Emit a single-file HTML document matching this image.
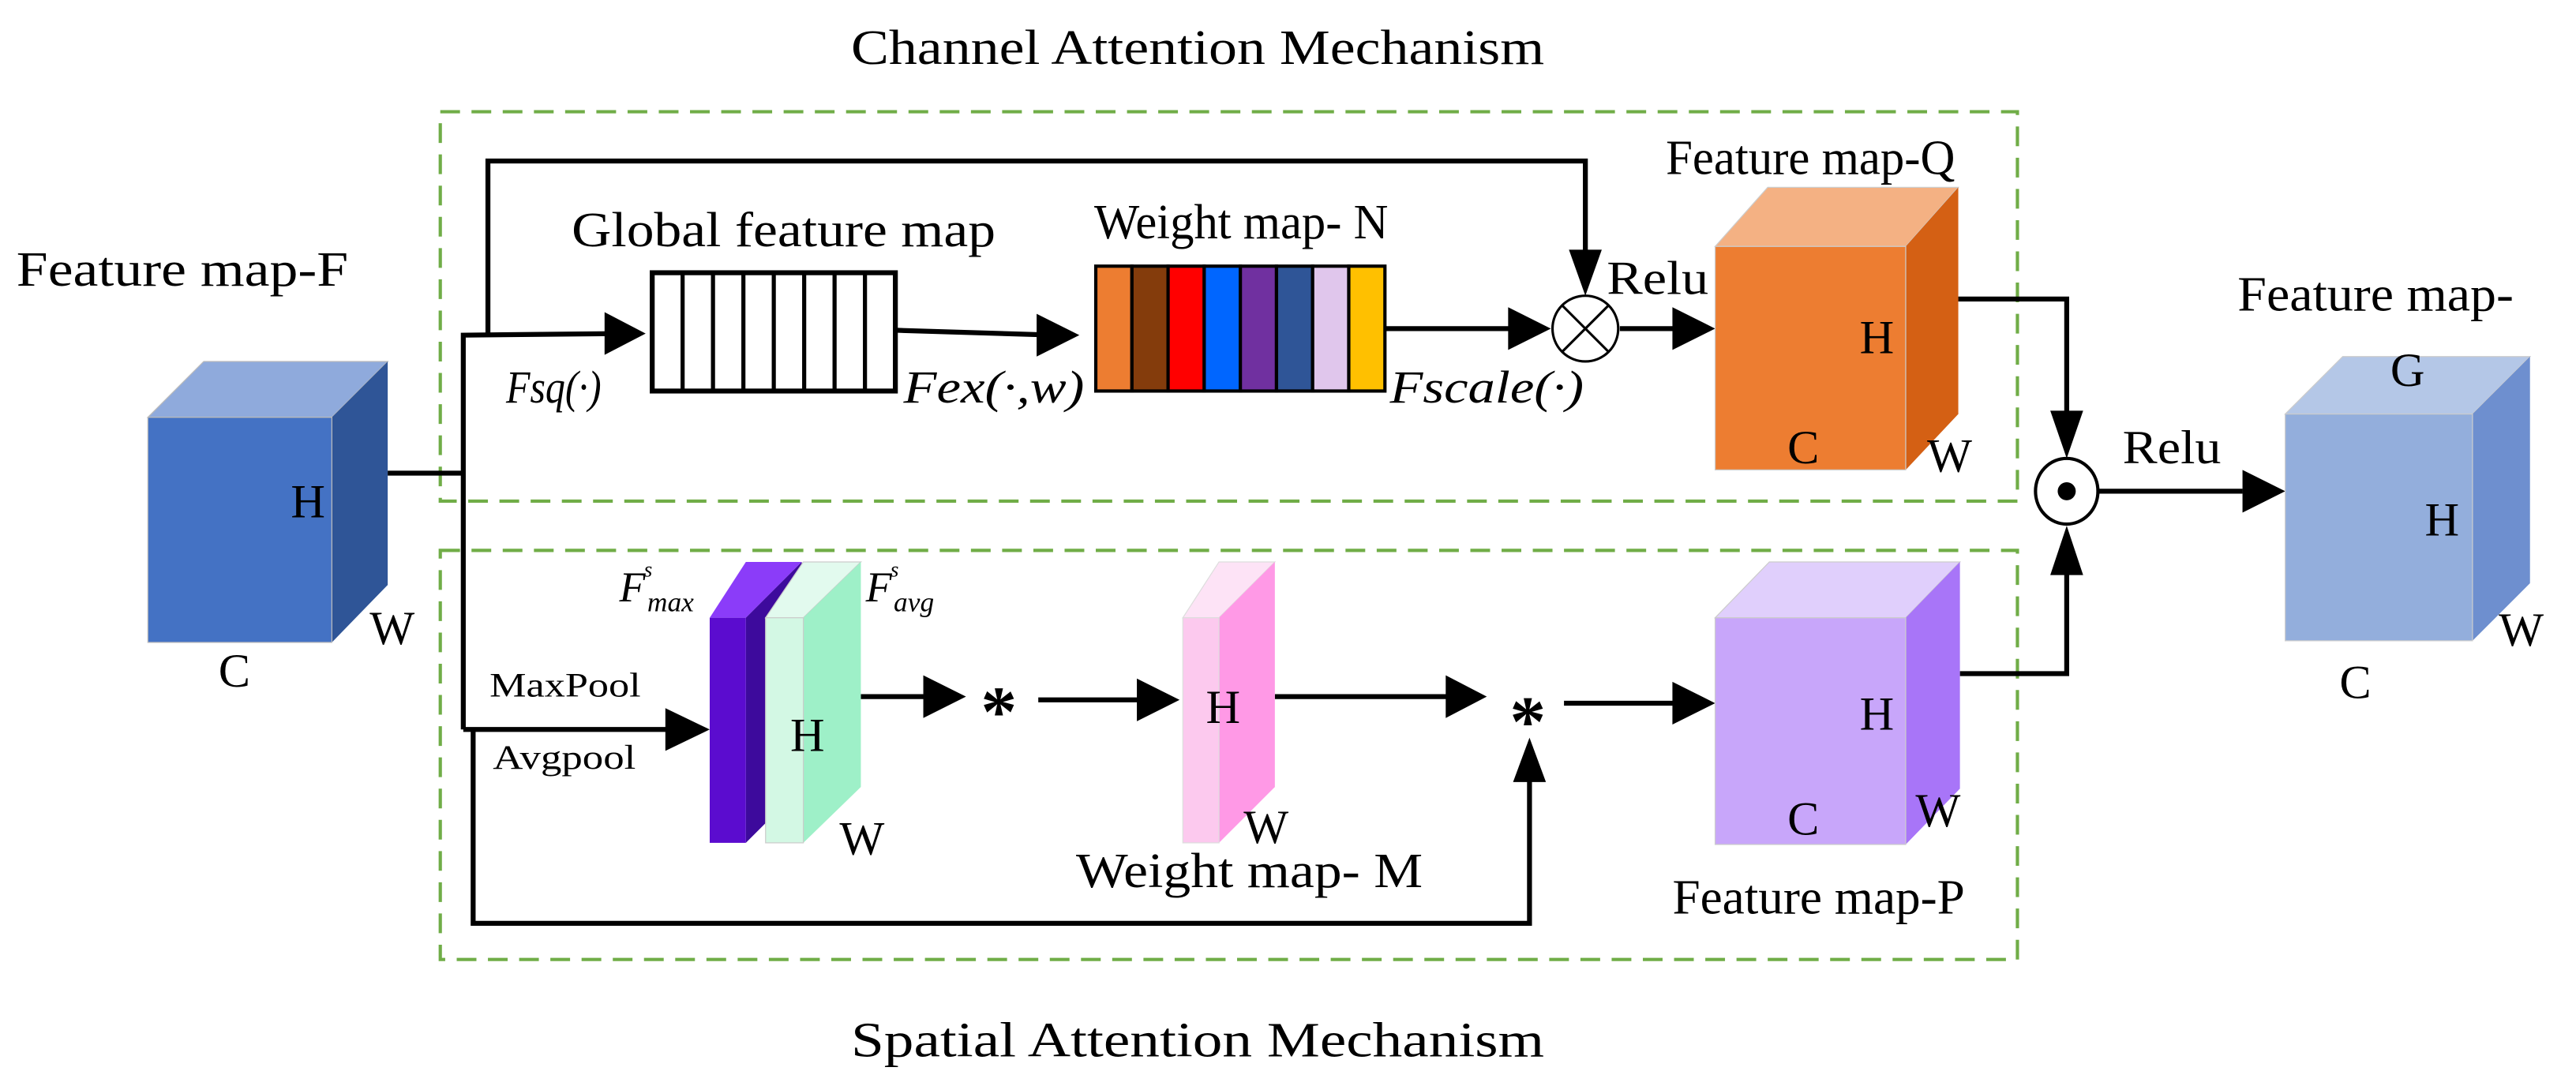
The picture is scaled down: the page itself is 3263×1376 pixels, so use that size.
<!DOCTYPE html>
<html><head><meta charset="utf-8"><style>
html,body{margin:0;padding:0;background:#fff;}
svg{display:block;}
text{font-family:"Liberation Serif",serif;fill:#000;}
</style></head><body>
<svg width="3263" height="1376" viewBox="0 0 1568 661" preserveAspectRatio="none" xmlns="http://www.w3.org/2000/svg">
<rect width="1568" height="661" fill="#fff"/>
<!-- titles -->
<text x="518" y="39" font-size="30" textLength="422" lengthAdjust="spacingAndGlyphs">Channel Attention Mechanism</text>
<text x="518" y="643" font-size="30" textLength="422" lengthAdjust="spacingAndGlyphs">Spatial Attention Mechanism</text>
<!-- dashed boxes -->
<rect x="268" y="68" width="960" height="237" fill="none" stroke="#70AD47" stroke-width="2" stroke-dasharray="12,7"/>
<rect x="268" y="335" width="960" height="249" fill="none" stroke="#70AD47" stroke-width="2" stroke-dasharray="12,7"/>

<!-- Cube F -->
<polygon points="90,254 124,220 236,220 202,254" fill="#8FAADC" stroke="#bbb" stroke-width="0.6"/>
<polygon points="202,254 236,220 236,356 202,391" fill="#2F5597"/>
<rect x="90" y="254" width="112" height="137" fill="#4472C4" stroke="#bbb" stroke-width="0.6"/>
<text x="10" y="174" font-size="30" textLength="202" lengthAdjust="spacingAndGlyphs">Feature map-F</text>
<text x="177" y="315" font-size="29">H</text>
<text x="225" y="392" font-size="29">W</text>
<text x="133" y="418" font-size="29">C</text>

<g stroke="#000" stroke-width="3" fill="none">
<polyline points="236,288 282,288"/>
<polyline points="282,444 282,204 380,203"/>
<polyline points="297,204 297,98 965,98 965,165"/>
<polyline points="545,201 642,204"/>
<polyline points="843,200 925,200"/>
<polyline points="986,200 1022,200"/>
<polyline points="1192,182 1258,182 1258,262"/>
<polyline points="1277,299 1365,299"/>
<polyline points="282,444 410,444"/>
<polyline points="288,444 288,562 931,562 931,466"/>
<polyline points="524,424 565,424"/>
<polyline points="632,426 695,426"/>
<polyline points="776,424 882,424"/>
<polyline points="952,428 1022,428"/>
<polyline points="1193,410 1258,410 1258,336"/>
</g>
<g fill="#000">
<polygon points="368,190 393,203 368,216"/>
<polygon points="631,191 657,204 631,217"/>
<polygon points="955,152 975,152 965,180"/>
<polygon points="918,187 944,200 918,213"/>
<polygon points="1018,187 1044,200 1018,213"/>
<polygon points="1248,250 1268,250 1258,279"/>
<polygon points="1365,286 1391,299 1365,312"/>
<polygon points="405,431 432,444 405,457"/>
<polygon points="562,411 588,424 562,437"/>
<polygon points="692,413 718,426 692,439"/>
<polygon points="880,411 905,424 880,437"/>
<polygon points="1018,415 1044,428 1018,441"/>
<polygon points="921,476 941,476 931,449"/>
<polygon points="1248,350 1268,350 1258,320"/>
</g>

<!-- Global feature map -->
<text x="348" y="150" font-size="30" textLength="258" lengthAdjust="spacingAndGlyphs">Global feature map</text>
<rect x="397" y="166" width="148" height="72" fill="#fff" stroke="#000" stroke-width="3"/>
<g stroke="#000" stroke-width="2.5">
<line x1="415.5" y1="166" x2="415.5" y2="238"/><line x1="434" y1="166" x2="434" y2="238"/>
<line x1="452.5" y1="166" x2="452.5" y2="238"/><line x1="471" y1="166" x2="471" y2="238"/>
<line x1="489.5" y1="166" x2="489.5" y2="238"/><line x1="508" y1="166" x2="508" y2="238"/>
<line x1="526.5" y1="166" x2="526.5" y2="238"/>
</g>
<text x="308" y="245" font-size="28" font-style="italic" textLength="58" lengthAdjust="spacingAndGlyphs">Fsq(·)</text>
<text x="550" y="245" font-size="28" font-style="italic" textLength="110" lengthAdjust="spacingAndGlyphs">Fex(·,w)</text>

<!-- Weight map N -->
<text x="666" y="145" font-size="30" textLength="179" lengthAdjust="spacingAndGlyphs">Weight map- N</text>
<g stroke="#000" stroke-width="2">
<rect x="667" y="162" width="22" height="76" fill="#ED7D31"/>
<rect x="689" y="162" width="22" height="76" fill="#843C0C"/>
<rect x="711" y="162" width="22" height="76" fill="#FF0000"/>
<rect x="733" y="162" width="22" height="76" fill="#0066FF"/>
<rect x="755" y="162" width="22" height="76" fill="#7030A0"/>
<rect x="777" y="162" width="22" height="76" fill="#2F5597"/>
<rect x="799" y="162" width="22" height="76" fill="#E0C6EC"/>
<rect x="821" y="162" width="22" height="76" fill="#FFC000"/>
</g>
<text x="846" y="245" font-size="28" font-style="italic" textLength="118" lengthAdjust="spacingAndGlyphs">Fscale(·)</text>

<!-- otimes -->
<ellipse cx="965" cy="200" rx="20" ry="20" fill="#fff" stroke="#000" stroke-width="1.5"/>
<line x1="951" y1="186" x2="979" y2="214" stroke="#000" stroke-width="1.5"/>
<line x1="979" y1="186" x2="951" y2="214" stroke="#000" stroke-width="1.5"/>
<text x="978" y="179" font-size="29" textLength="62" lengthAdjust="spacingAndGlyphs">Relu</text>

<!-- Cube Q -->
<polygon points="1044,150 1076,114 1192,114 1160,150" fill="#F4B183" stroke="#ccc" stroke-width="0.6"/>
<polygon points="1160,150 1192,114 1192,252 1160,286" fill="#D46014"/>
<rect x="1044" y="150" width="116" height="136" fill="#ED7D31" stroke="#ccc" stroke-width="0.6"/>
<text x="1014" y="106" font-size="30" textLength="176" lengthAdjust="spacingAndGlyphs">Feature map-Q</text>
<text x="1132" y="215" font-size="29">H</text>
<text x="1088" y="282" font-size="29">C</text>
<text x="1173" y="287" font-size="29">W</text>

<!-- odot -->
<ellipse cx="1258" cy="299" rx="19" ry="20" fill="#fff" stroke="#000" stroke-width="2"/>
<circle cx="1258" cy="299" r="5.5" fill="#000"/>
<text x="1292" y="282" font-size="29" textLength="60" lengthAdjust="spacingAndGlyphs">Relu</text>

<!-- Cube G -->
<polygon points="1391,252 1426,217 1540,217 1505,252" fill="#B4C7E7" stroke="#ccc" stroke-width="0.6"/>
<polygon points="1505,252 1540,217 1540,355 1505,390" fill="#6E8FCF"/>
<rect x="1391" y="252" width="114" height="138" fill="#93AEDC" stroke="#ccc" stroke-width="0.6"/>
<text x="1362" y="189" font-size="30" textLength="168" lengthAdjust="spacingAndGlyphs">Feature map-</text>
<text x="1455" y="235" font-size="29">G</text>
<text x="1476" y="326" font-size="29">H</text>
<text x="1521" y="393" font-size="29">W</text>
<text x="1424" y="425" font-size="29">C</text>

<!-- spatial section -->
<text x="298" y="424" font-size="21" textLength="92" lengthAdjust="spacingAndGlyphs">MaxPool</text>
<text x="300" y="468" font-size="21" textLength="87" lengthAdjust="spacingAndGlyphs">Avgpool</text>
<polygon points="432,376 454,342 488,342 454,376" fill="#8B3CF9"/>
<polygon points="454,376 488,342 488,479 454,513" fill="#3D0A9C"/>
<rect x="432" y="376" width="22" height="137" fill="#5B0CCF"/>
<polygon points="466,376 489,342 524,342 489,376" fill="#E2FAEE" stroke="#ccc" stroke-width="0.6"/>
<polygon points="489,376 524,342 524,479 489,513" fill="#9EF0C8"/>
<rect x="466" y="376" width="23" height="137" fill="#D3F8E4" stroke="#ccc" stroke-width="0.6"/>
<text x="481" y="457" font-size="29">H</text>
<text x="511" y="520" font-size="29">W</text>
<text x="377" y="366" font-size="26" font-style="italic">F</text>
<text x="392" y="351" font-size="13" font-style="italic">s</text>
<text x="394" y="372" font-size="17" font-style="italic">max</text>
<text x="527" y="366" font-size="26" font-style="italic">F</text>
<text x="542" y="351" font-size="13" font-style="italic">s</text>
<text x="544" y="372" font-size="17" font-style="italic">avg</text>
<text x="608" y="448" font-size="44" text-anchor="middle" font-weight="bold">*</text>
<polygon points="720,376 742,342 776,342 742,376" fill="#FDE3F6" stroke="#ddd" stroke-width="0.6"/>
<polygon points="742,376 776,342 776,479 742,513" fill="#FF99E6"/>
<rect x="720" y="376" width="22" height="137" fill="#FCC9EE" stroke="#ddd" stroke-width="0.6"/>
<text x="734" y="440" font-size="29">H</text>
<text x="757" y="513" font-size="29">W</text>
<text x="655" y="540" font-size="30" textLength="211" lengthAdjust="spacingAndGlyphs">Weight map- M</text>
<text x="930" y="454" font-size="44" text-anchor="middle" font-weight="bold">*</text>
<polygon points="1044,376 1077,342 1193,342 1160,376" fill="#E0CFFC" stroke="#ccc" stroke-width="0.6"/>
<polygon points="1160,376 1193,342 1193,480 1160,514" fill="#A875F8"/>
<rect x="1044" y="376" width="116" height="138" fill="#C8A6FA" stroke="#ccc" stroke-width="0.6"/>
<text x="1132" y="444" font-size="29">H</text>
<text x="1088" y="508" font-size="29">C</text>
<text x="1166" y="503" font-size="29">W</text>
<text x="1018" y="556" font-size="30" textLength="178" lengthAdjust="spacingAndGlyphs">Feature map-P</text>
</svg>
</body></html>
